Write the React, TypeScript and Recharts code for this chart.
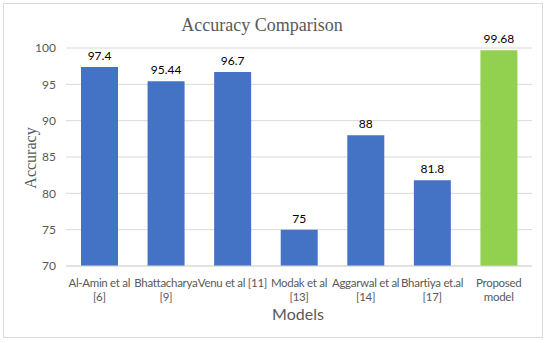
import { Bar, BarChart, CartesianGrid, Cell, LabelList, XAxis, YAxis } from "recharts";

const models = [
  "Al-Amin et al [6]",
  "Bhattacharya [9]",
  "Venu et al [11]",
  "Modak et al [13]",
  "Aggarwal et al [14]",
  "Bhartiya et.al [17]",
  "Proposed model",
];
const tickLines = [
  ["Al-Amin et al", "[6]"],
  ["Bhattacharya", "[9]"],
  ["Venu et al [11]"],
  ["Modak et al", "[13]"],
  ["Aggarwal et al", "[14]"],
  ["Bhartiya et.al", "[17]"],
  ["Proposed", "model"],
];
const accuracy = [97.4, 95.44, 96.7, 75, 88, 81.8, 99.68];
const yTicks = [70, 75, 80, 85, 90, 95, 100];

const data = models.map((m, i) => ({ name: m, acc: accuracy[i] }));

const FONT = "Lato, 'Open Sans', sans-serif";

function ModelTick({ x, y, payload }: any) {
  const lines = tickLines[payload.index] ?? [payload.value];
  return (
    <text x={x} y={y + 13} textAnchor="middle" fill="#595959" fontSize={11.5} letterSpacing={-0.3} fontFamily={FONT}>
      {lines.map((l, i) => (
        <tspan key={i} x={x} dy={i === 0 ? 0 : 14}>
          {l}
        </tspan>
      ))}
    </text>
  );
}

export default function App() {
  return (
    <div style={{ position: "absolute", left: 0, top: 0, width: 546, height: 343, background: "#fff" }}>
      <div
        style={{
          position: "absolute",
          left: 3,
          top: 3,
          width: 538,
          height: 333,
          border: "1px solid #d9d9d9",
        }}
      />
      <BarChart width={546} height={343} data={data} margin={{ top: 48, right: 14, bottom: 47, left: 26 }}>
        <text x={262} y={31} textAnchor="middle" fontFamily="'Liberation Serif', serif" fontSize={18} fill="#595959">
          Accuracy Comparison
        </text>
        <text
          x={36}
          y={158}
          textAnchor="middle"
          transform="rotate(-90 36 158)"
          fontFamily="'Liberation Serif', serif"
          fontSize={16}
          fill="#595959"
        >
          Accuracy
        </text>
        <text x={298} y={320} textAnchor="middle" fontFamily={FONT} fontSize={16} fill="#595959">
          Models
        </text>
        <CartesianGrid vertical={false} stroke="#d9d9d9" />
        <XAxis
          dataKey="name"
          height={30}
          axisLine={{ stroke: "#d9d9d9" }}
          tickLine={false}
          interval={0}
          tick={<ModelTick />}
        />
        <YAxis
          width={40}
          domain={[70, 100]}
          ticks={yTicks}
          axisLine={false}
          tickLine={false}
          tickSize={0}
          tickMargin={10}
          tick={{ fill: "#595959", fontSize: 12, fontFamily: FONT }}
        />
        <Bar dataKey="acc" barSize={37} isAnimationActive={false}>
          {data.map((d, i) => (
            <Cell key={d.name} fill={i === data.length - 1 ? "#92d050" : "#4472c4"} />
          ))}
          <LabelList dataKey="acc" position="top" offset={7} fill="#000" fontSize={12} fontFamily={FONT} />
        </Bar>
      </BarChart>
    </div>
  );
}
